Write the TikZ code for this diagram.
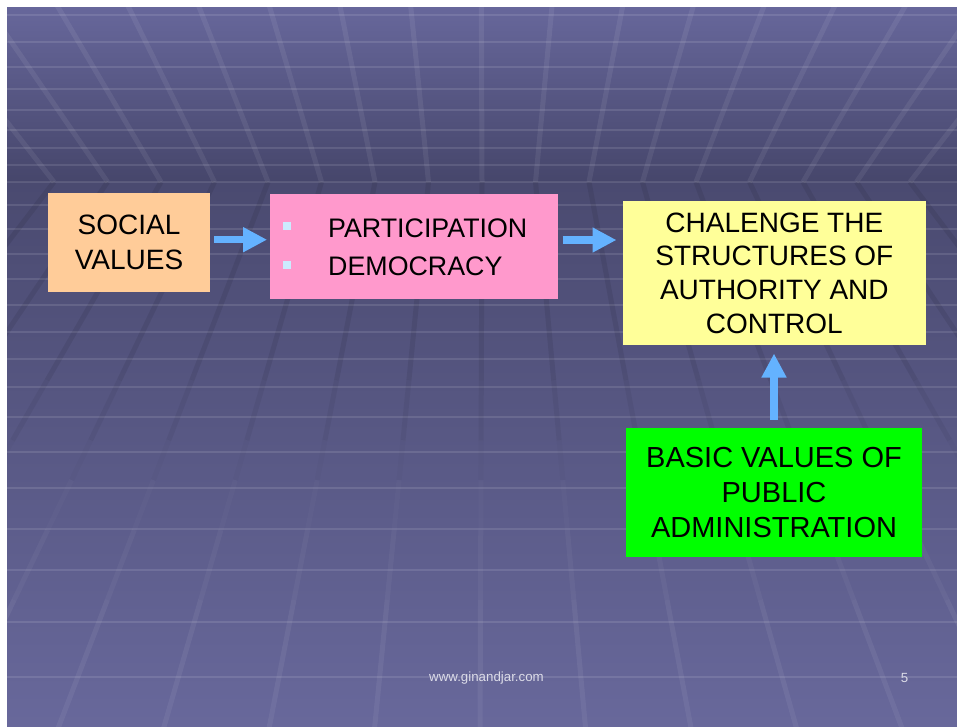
\documentclass[tikz,border=0pt]{standalone}
\usepackage{fontspec}
\setmainfont{Liberation Sans}
\usetikzlibrary{arrows.meta}
\definecolor{ceilTop}{RGB}{103,103,155}
\definecolor{ceilBot}{RGB}{70,70,107}
\definecolor{floorTop}{RGB}{74,74,112}
\definecolor{floorBot}{RGB}{104,104,155}
\definecolor{peachc}{RGB}{255,204,153}
\definecolor{pinkc}{RGB}{255,153,204}
\definecolor{yellowc}{RGB}{255,255,153}
\definecolor{greenc}{RGB}{0,255,0}
\definecolor{bulc}{RGB}{204,236,255}
\definecolor{arrowc}{RGB}{100,178,255}
\definecolor{footc}{RGB}{220,220,232}
\begin{document}
\begin{tikzpicture}[x=1pt,y=-1pt,
  box/.style={rectangle, inner sep=0pt, align=center, text=black},
  barrow/.style={draw=arrowc, line width=7.3pt, -{Triangle[length=24pt,width=23.5pt]}},
  ceilline/.style={white, opacity=0.07, line width=5pt},
  hline/.style={white, opacity=0.11, line width=2.5pt},
  bulletbox/.style={rectangle, fill=bulc, minimum size=8pt, inner sep=0pt},
  pinktext/.style={inner sep=0pt, anchor=base west, font=\fontsize{26.8}{32}\selectfont},
  foot/.style={text=footc, inner sep=0pt, font=\fontsize{13.3}{16}\selectfont}
]
\useasboundingbox (0,0) rectangle (957,726);
\fill[white] (0,0) rectangle (957,726);
% background slide
\begin{scope}
  \clip (7,7) rectangle (957,726);
  \shade[top color=ceilTop, bottom color=ceilBot] (7,7) rectangle (957,182);
  \shade[top color=floorTop, bottom color=floorBot] (7,182) rectangle (957,726);
  \foreach \yy in {15,42,67,89,110,130,148,165,182,205,229,254,279,305,332,359,387,417,452,488,529,570,622,677}
    \draw[hline] (7,\yy) -- (957,\yy);
  \foreach \k in {-9,...,9} {
    \pgfmathsetmacro\xa{482+53.5*\k}
    \pgfmathsetmacro\xt{484+(\xa-484)*1.35}
    \draw[ceilline] (\xa,182) -- (\xt,-10);
    \foreach \ya/\yb/\cc/\op in {182/380/black/0.08, 380/440/black/0.05, 440/480/black/0.02,
                                 480/530/white/0.02, 530/600/white/0.04, 600/740/white/0.06} {
      \pgfmathsetmacro\fa{(\ya+380)/562}
      \pgfmathsetmacro\fb{(\yb+380)/562}
      \pgfmathsetmacro\xp{484+(\xa-484)*\fa}
      \pgfmathsetmacro\xq{484+(\xa-484)*\fb}
      \draw[\cc, opacity=\op, line width=5pt] (\xp,\ya) -- (\xq,\yb);
    }
  }
\end{scope}
% boxes
\node[box, fill=peachc, minimum width=162pt, minimum height=98.4pt,
      font=\fontsize{28}{35}\selectfont] (social) at (129,242.5) {SOCIAL\\VALUES};
\node[box, fill=pinkc, minimum width=287.7pt, minimum height=105.3pt] (pink) at (413.85,246.65) {};
\node[bulletbox] (b1) at (286.7,226) {};
\node[bulletbox] (b2) at (286.7,264.5) {};
\node[pinktext] (part) at (328,237.1) {PARTICIPATION};
\node[pinktext] (demo) at (328,275.6) {DEMOCRACY};
\node[box, fill=yellowc, minimum width=303.3pt, minimum height=144pt,
      font=\fontsize{28}{33.6}\selectfont] (chal) at (774.35,273)
      {CHALENGE THE\\STRUCTURES OF\\AUTHORITY AND\\CONTROL};
\node[box, fill=greenc, minimum width=296pt, minimum height=129pt,
      font=\fontsize{29}{35}\selectfont] (basic) at (774,492.2)
      {BASIC VALUES OF\\PUBLIC\\ADMINISTRATION};
% arrows
\draw[barrow, shorten <=4pt, shorten >=2.7pt] (social.east |- 0,239.7) -- (pink.west |- 0,239.7);
\draw[barrow, shorten <=4.6pt, shorten >=6pt] (pink.east |- 0,240) -- (chal.west |- 0,240);
\draw[barrow, shorten <=7.7pt, shorten >=8.3pt] (basic.north) -- (basic.north |- chal.south);
% footer
\node[foot] (url) at (486.5,678.4) {www.ginandjar.com};
\node[foot] (pg) at (904.5,678) {5};
\end{tikzpicture}
\end{document}
